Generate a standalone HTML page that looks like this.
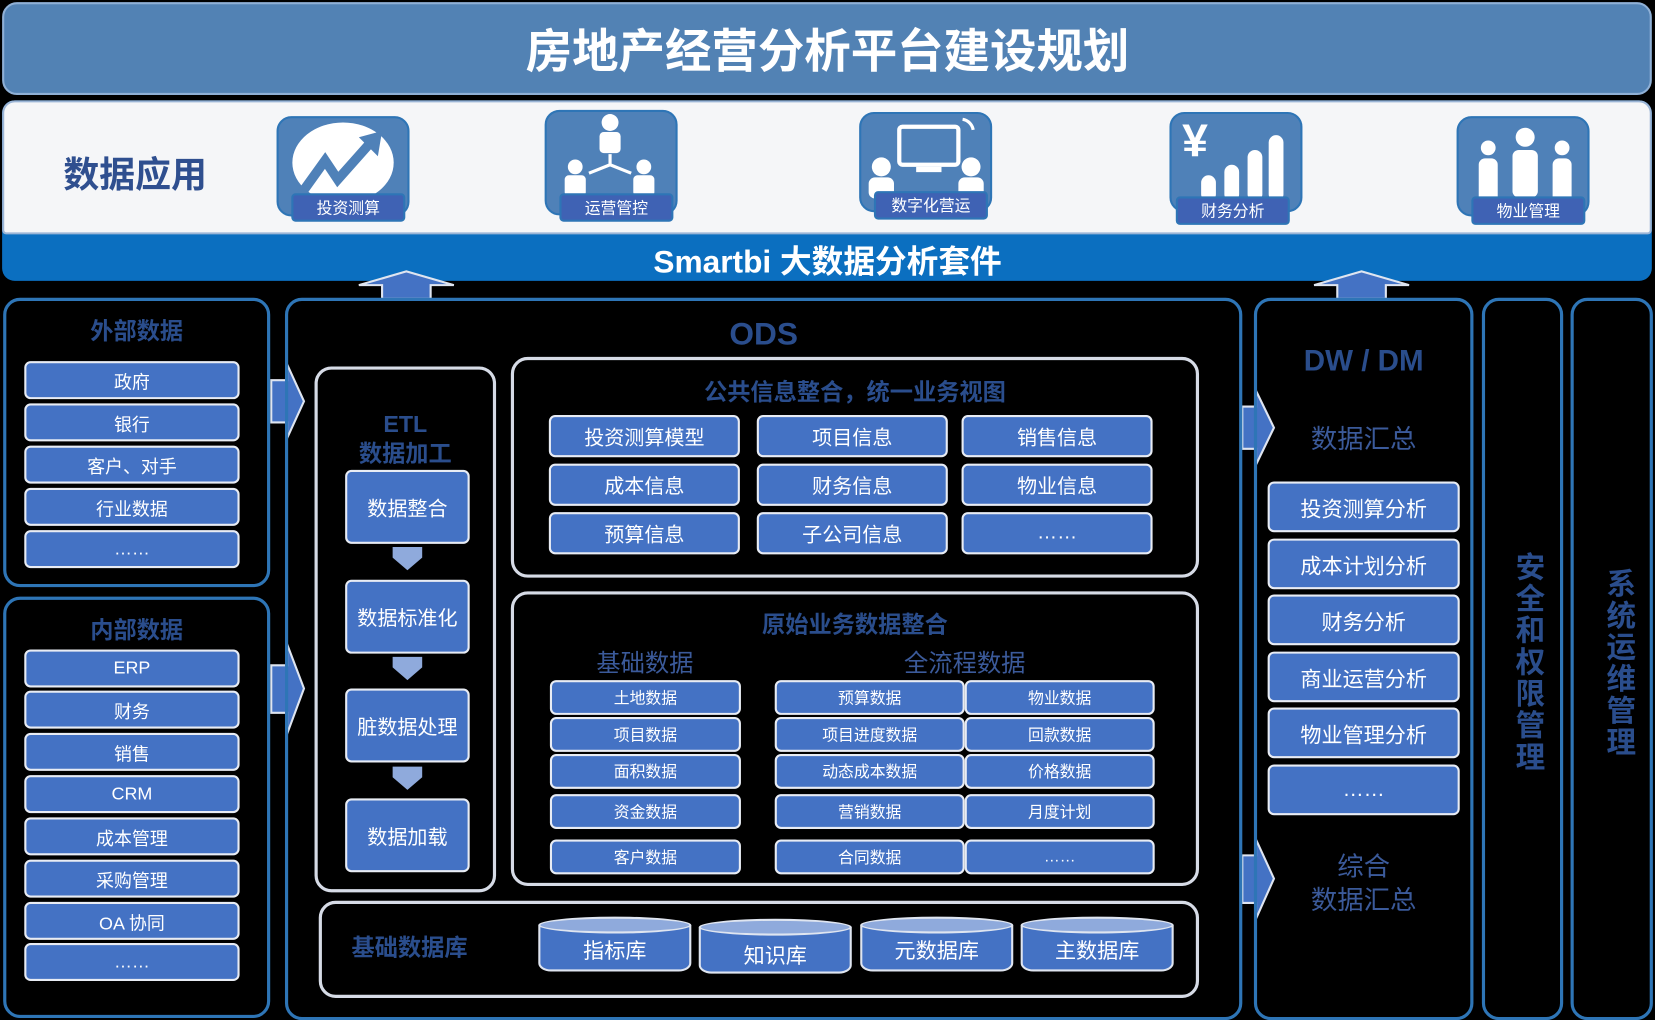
<!DOCTYPE html>
<html><head><meta charset="utf-8"><style>
*{margin:0;padding:0;box-sizing:border-box}
html,body{width:1655px;height:1018px;background:#000;overflow:hidden}
#s{position:absolute;left:0;top:0;width:1568px;height:964px;transform:scale(1.05548,1.05602);transform-origin:0 0;font-family:"Liberation Sans","Noto Sans CJK SC",sans-serif}
.a{position:absolute}
.b{position:absolute;background:#4472c4;border:2px solid #e8ecf4;border-radius:6px;color:#fff;display:flex;align-items:center;justify-content:center;font-size:17px}
.c{position:absolute;border:3px solid #2e75b6;border-radius:16px}
.g{position:absolute;border:3px solid #d6dbe6;border-radius:16px}
.t{position:absolute;text-align:center;color:#2a4d8c;font-weight:bold}
.ic{position:absolute;background:#4f81b8;border:2px solid #2e75b6;border-radius:14px}
.lb{position:absolute;background:#3f62b4;border:2px solid #2e75b6;border-radius:4px;color:#fff;font-size:15px;display:flex;align-items:center;justify-content:center}
.cy{position:absolute;width:145px;height:52px}
.cy .bd{position:absolute;left:0;top:8px;width:100%;height:44px;background:#4472c4;border:2px solid #dfe5f0;border-radius:0 0 12px 12px/0 0 8px 8px}
.cy .tp{position:absolute;left:0;top:0;width:100%;height:16px;background:#8faadc;border:2px solid #dfe5f0;border-radius:50%}
.cy span{position:absolute;left:0;right:0;top:16px;text-align:center;color:#fff;font-size:20px}
.v{position:absolute;writing-mode:vertical-rl;color:#2a4d8c;font-weight:bold;font-size:28px;letter-spacing:2px}
</style></head><body><div id="s">
<div class="a" style="left:2px;top:2px;width:1563px;height:88px;background:#5282b4;border-radius:14px;border:2px solid #8fb0d6"></div>
<div class="a" style="left:0;top:13px;width:1568px;text-align:center;color:#fff;font-weight:bold;font-size:44px">房地产经营分析平台建设规划</div>
<div class="a" style="left:2px;top:95px;width:1563px;height:171px;background:#0b6fc0;border-radius:12px"></div>
<div class="a" style="left:2px;top:95px;width:1563px;height:127px;background:#f5f6f8;border-radius:12px 12px 4px 4px;border:2px solid #9bb5d6"></div>
<div class="a" style="left:0;top:223px;width:1568px;text-align:center;color:#fff;font-weight:bold;font-size:30px">Smartbi 大数据分析套件</div>
<div class="a" style="left:60px;top:138px;color:#2f4f8f;font-weight:bold;font-size:34px">数据应用</div>

<div class="ic" style="left:262px;top:110px;width:126px;height:95px"></div>
<svg class="a" style="left:270px;top:112px" width="110" height="80"><ellipse cx="55" cy="42" rx="48" ry="38" fill="#fff"/><polyline points="15,72 38,40 50,58 82,22" fill="none" stroke="#4f81b8" stroke-width="9"/><polygon points="70,18 92,12 88,36" fill="#4f81b8"/></svg>
<div class="lb" style="left:276px;top:183px;width:108px;height:27px">投资测算</div>
<div class="ic" style="left:516px;top:104px;width:126px;height:100px"></div>
<svg class="a" style="left:530px;top:108px" width="100" height="80" fill="#fff"><circle cx="48" cy="8" r="8"/><rect x="38" y="17" width="20" height="20" rx="4"/><circle cx="15" cy="50" r="7"/><rect x="5" y="58" width="20" height="20" rx="4"/><circle cx="80" cy="50" r="7"/><rect x="70" y="58" width="20" height="20" rx="4"/><path d="M48 38v10M48 48l-20 8M48 48l20 8" stroke="#fff" stroke-width="3"/></svg>
<div class="lb" style="left:530px;top:183px;width:108px;height:27px">运营管控</div>
<div class="ic" style="left:814px;top:106px;width:126px;height:95px"></div>
<svg class="a" style="left:820px;top:108px" width="115" height="80" fill="#fff"><rect x="32" y="12" width="56" height="36" rx="3" fill="none" stroke="#fff" stroke-width="4"/><rect x="48" y="50" width="24" height="5"/><circle cx="15" cy="50" r="9"/><rect x="3" y="60" width="24" height="20" rx="6"/><circle cx="100" cy="50" r="9"/><rect x="88" y="60" width="24" height="20" rx="6"/><path d="M92 5a12 12 0 0 1 10 10" stroke="#fff" stroke-width="3" fill="none"/></svg>
<div class="lb" style="left:828px;top:181px;width:108px;height:27px">数字化营运</div>
<div class="ic" style="left:1108px;top:106px;width:126px;height:95px"></div>
<svg class="a" style="left:1118px;top:108px" width="110" height="85" fill="#fff"><text x="2" y="40" font-size="44" font-family="Liberation Sans" fill="#fff" font-weight="bold">¥</text><rect x="20" y="58" width="14" height="25" rx="7"/><rect x="42" y="48" width="14" height="35" rx="7"/><rect x="64" y="34" width="14" height="49" rx="7"/><rect x="84" y="20" width="14" height="63" rx="7"/></svg>
<div class="lb" style="left:1114px;top:186px;width:108px;height:27px">财务分析</div>
<div class="ic" style="left:1380px;top:110px;width:126px;height:95px"></div>
<svg class="a" style="left:1395px;top:118px" width="100" height="80" fill="#fff"><circle cx="50" cy="12" r="9"/><rect x="38" y="24" width="24" height="45" rx="6"/><circle cx="15" cy="22" r="7"/><rect x="6" y="32" width="18" height="45" rx="6"/><circle cx="85" cy="22" r="7"/><rect x="76" y="32" width="18" height="45" rx="6"/></svg>
<div class="lb" style="left:1394px;top:186px;width:108px;height:27px">物业管理</div>

<svg class="a" style="left:0;top:0" width="1568" height="964">
<g fill="#4472c4" stroke="#dfe5f0" stroke-width="2">
<polygon points="340,270 385,257 430,270 408,270 408,283 362,283 362,270"/>
<polygon points="1245,270 1290,257 1335,270 1313,270 1313,283 1267,283 1267,270"/>
<polygon points="257,360 272,360 272,345 288,380 272,415 272,400 257,400"/>
<polygon points="257,630 272,630 272,610 288,652 272,695 272,675 257,675"/>
<polygon points="1177,385 1190,385 1190,370 1207,405 1190,440 1190,425 1177,425"/>
<polygon points="1177,810 1190,810 1190,795 1207,832 1190,870 1190,855 1177,855"/>
<polygon points="372,518 400,518 400,528 386,540 372,528" stroke="none" fill="#8faadc"/>
<polygon points="372,622 400,622 400,632 386,644 372,632" stroke="none" fill="#8faadc"/>
<polygon points="372,726 400,726 400,736 386,748 372,736" stroke="none" fill="#8faadc"/>
</g></svg>

<div class="c" style="left:3px;top:282px;width:253px;height:274px"></div>
<div class="t" style="left:3px;top:296px;width:253px;font-size:22px">外部数据</div>
<div class="b" style="left:23px;top:342px;width:204px;height:36px">政府</div>
<div class="b" style="left:23px;top:382px;width:204px;height:36px">银行</div>
<div class="b" style="left:23px;top:422px;width:204px;height:36px">客户、对手</div>
<div class="b" style="left:23px;top:462px;width:204px;height:36px">行业数据</div>
<div class="b" style="left:23px;top:502px;width:204px;height:36px">……</div>
<div class="c" style="left:3px;top:565px;width:253px;height:399px"></div>
<div class="t" style="left:3px;top:579px;width:253px;font-size:22px">内部数据</div>
<div class="b" style="left:23px;top:615px;width:204px;height:36px">ERP</div>
<div class="b" style="left:23px;top:654px;width:204px;height:36px">财务</div>
<div class="b" style="left:23px;top:694px;width:204px;height:36px">销售</div>
<div class="b" style="left:23px;top:734px;width:204px;height:36px">CRM</div>
<div class="b" style="left:23px;top:774px;width:204px;height:36px">成本管理</div>
<div class="b" style="left:23px;top:814px;width:204px;height:36px">采购管理</div>
<div class="b" style="left:23px;top:854px;width:204px;height:36px">OA 协同</div>
<div class="b" style="left:23px;top:893px;width:204px;height:36px">……</div>

<div class="c" style="left:270px;top:282px;width:907px;height:684px"></div>
<div class="t" style="left:270px;top:300px;width:907px;font-size:30px">ODS</div>
<div class="g" style="left:298px;top:347px;width:172px;height:498px"></div>
<div class="t" style="left:298px;top:388px;width:172px;font-size:22px;line-height:28px">ETL<br>数据加工</div>
<div class="b" style="left:327px;top:445px;width:118px;height:70px;font-size:19px">数据整合</div>
<div class="b" style="left:327px;top:549px;width:118px;height:70px;font-size:19px">数据标准化</div>
<div class="b" style="left:327px;top:652px;width:118px;height:70px;font-size:19px">脏数据处理</div>
<div class="b" style="left:327px;top:756px;width:118px;height:70px;font-size:19px">数据加载</div>

<div class="g" style="left:484px;top:338px;width:652px;height:209px"></div>
<div class="t" style="left:484px;top:354px;width:652px;font-size:22px">公共信息整合，统一业务视图</div>
<div class="b" style="left:520px;top:393px;width:181px;height:40px;font-size:19px">投资测算模型</div>
<div class="b" style="left:717px;top:393px;width:181px;height:40px;font-size:19px">项目信息</div>
<div class="b" style="left:911px;top:393px;width:181px;height:40px;font-size:19px">销售信息</div>
<div class="b" style="left:520px;top:439px;width:181px;height:40px;font-size:19px">成本信息</div>
<div class="b" style="left:717px;top:439px;width:181px;height:40px;font-size:19px">财务信息</div>
<div class="b" style="left:911px;top:439px;width:181px;height:40px;font-size:19px">物业信息</div>
<div class="b" style="left:520px;top:485px;width:181px;height:40px;font-size:19px">预算信息</div>
<div class="b" style="left:717px;top:485px;width:181px;height:40px;font-size:19px">子公司信息</div>
<div class="b" style="left:911px;top:485px;width:181px;height:40px;font-size:19px">……</div>

<div class="g" style="left:484px;top:560px;width:652px;height:279px"></div>
<div class="t" style="left:484px;top:574px;width:652px;font-size:22px">原始业务数据整合</div>
<div class="a" style="left:520px;top:609px;width:182px;text-align:center;color:#3b5a9a;font-size:23px">基础数据</div>
<div class="a" style="left:735px;top:609px;width:358px;text-align:center;color:#3b5a9a;font-size:23px">全流程数据</div>
<div class="b" style="left:521px;top:644px;width:181px;height:33px;font-size:15px">土地数据</div>
<div class="b" style="left:521px;top:679px;width:181px;height:33px;font-size:15px">项目数据</div>
<div class="b" style="left:521px;top:714px;width:181px;height:33px;font-size:15px">面积数据</div>
<div class="b" style="left:521px;top:752px;width:181px;height:33px;font-size:15px">资金数据</div>
<div class="b" style="left:521px;top:795px;width:181px;height:33px;font-size:15px">客户数据</div>
<div class="b" style="left:734px;top:644px;width:180px;height:33px;font-size:15px">预算数据</div>
<div class="b" style="left:734px;top:679px;width:180px;height:33px;font-size:15px">项目进度数据</div>
<div class="b" style="left:734px;top:714px;width:180px;height:33px;font-size:15px">动态成本数据</div>
<div class="b" style="left:734px;top:752px;width:180px;height:33px;font-size:15px">营销数据</div>
<div class="b" style="left:734px;top:795px;width:180px;height:33px;font-size:15px">合同数据</div>
<div class="b" style="left:914px;top:644px;width:180px;height:33px;font-size:15px">物业数据</div>
<div class="b" style="left:914px;top:679px;width:180px;height:33px;font-size:15px">回款数据</div>
<div class="b" style="left:914px;top:714px;width:180px;height:33px;font-size:15px">价格数据</div>
<div class="b" style="left:914px;top:752px;width:180px;height:33px;font-size:15px">月度计划</div>
<div class="b" style="left:914px;top:795px;width:180px;height:33px;font-size:15px">……</div>

<div class="g" style="left:302px;top:853px;width:834px;height:92px"></div>
<div class="t" style="left:318px;top:880px;width:140px;font-size:22px">基础数据库</div>
<div class="cy" style="left:510px;top:868px"><div class="bd"></div><div class="tp"></div><span>指标库</span></div>
<div class="cy" style="left:662px;top:870px"><div class="bd"></div><div class="tp"></div><span style="top:19px">知识库</span></div>
<div class="cy" style="left:815px;top:868px"><div class="bd"></div><div class="tp"></div><span>元数据库</span></div>
<div class="cy" style="left:967px;top:868px"><div class="bd"></div><div class="tp"></div><span>主数据库</span></div>

<div class="c" style="left:1188px;top:282px;width:208px;height:684px"></div>
<div class="t" style="left:1188px;top:326px;width:208px;font-size:28px">DW / DM</div>
<div class="a" style="left:1188px;top:396px;width:208px;text-align:center;color:#3b5a9a;font-size:25px">数据汇总</div>
<div class="b" style="left:1201px;top:456px;width:182px;height:48px;font-size:20px">投资测算分析</div>
<div class="b" style="left:1201px;top:510px;width:182px;height:48px;font-size:20px">成本计划分析</div>
<div class="b" style="left:1201px;top:563px;width:182px;height:48px;font-size:20px">财务分析</div>
<div class="b" style="left:1201px;top:617px;width:182px;height:48px;font-size:20px">商业运营分析</div>
<div class="b" style="left:1201px;top:670px;width:182px;height:48px;font-size:20px">物业管理分析</div>
<div class="b" style="left:1201px;top:724px;width:182px;height:48px;font-size:20px">……</div>
<div class="a" style="left:1188px;top:805px;width:208px;text-align:center;color:#3b5a9a;font-size:25px;line-height:32px">综合<br>数据汇总</div>

<div class="c" style="left:1404px;top:282px;width:77px;height:684px"></div>
<div class="v" style="left:1428px;top:522px">安全和权限管理</div>
<div class="c" style="left:1488px;top:282px;width:78px;height:684px"></div>
<div class="v" style="left:1514px;top:538px">系统运维管理</div>
</div></body></html>
